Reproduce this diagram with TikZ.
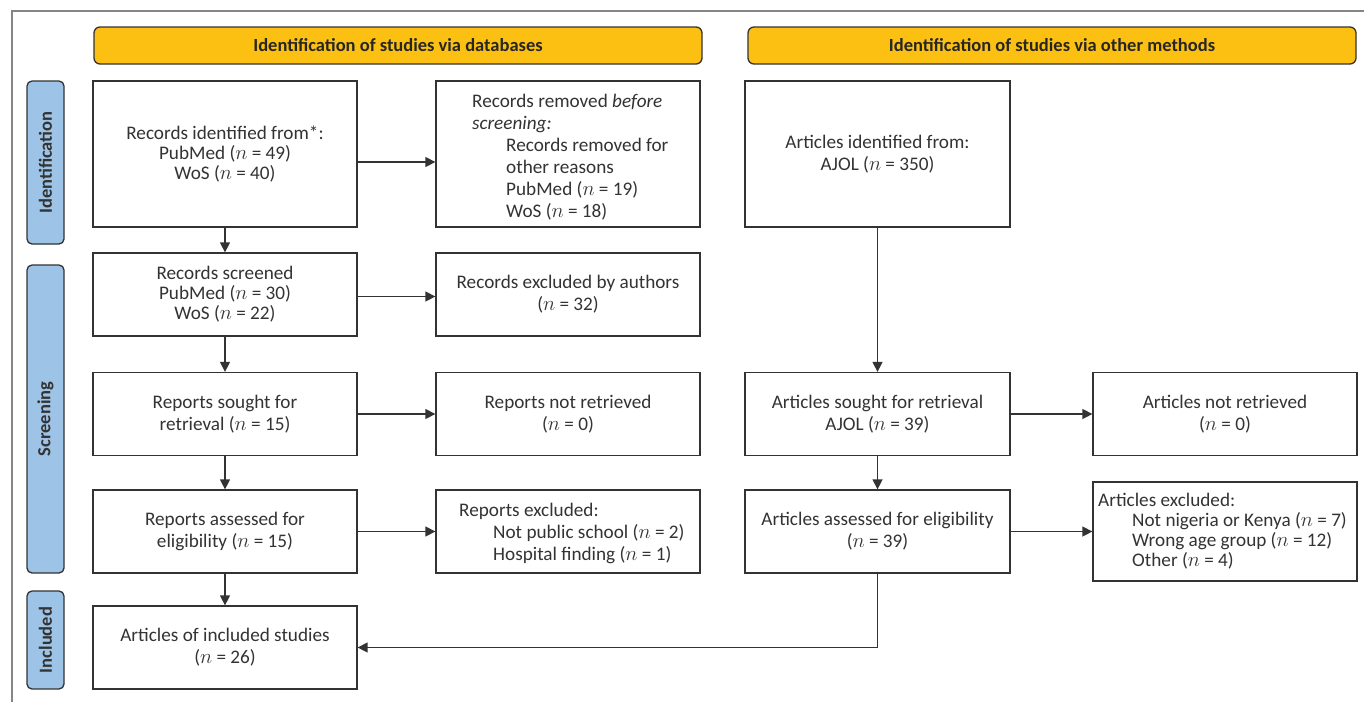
\documentclass[tikz,border=0pt]{standalone}
\usepackage{fontspec}
\setmainfont{Carlito}
\usetikzlibrary{arrows.meta}
\definecolor{hdr}{HTML}{FCC012}
\definecolor{sidec}{HTML}{9DC3E6}
\definecolor{txt}{HTML}{333333}
\definecolor{ln}{HTML}{333333}
\definecolor{frame}{HTML}{858585}
\newcommand{\nv}{$n$}
\begin{document}
\begin{tikzpicture}[x=1pt,y=-1pt,
  box/.style={draw=ln, line width=1.3pt, fill=white, minimum width=264pt, minimum height=83pt, inner sep=0pt, align=center, text=txt, font=\fontsize{19.2}{20}\selectfont},
  lefttext/.style={anchor=west, align=left, inner sep=0pt, text=txt, font=\fontsize{19.2}{22}\selectfont},
  sidebox/.style={draw=ln, line width=1.3pt, fill=sidec, rounded corners=5pt, rotate=90, minimum height=37pt, inner sep=0pt, text=txt, font=\fontsize{18.5}{20}\selectfont\bfseries},
  hdrbox/.style={draw=ln, line width=1.3pt, fill=hdr, rounded corners=6pt, minimum width=608pt, minimum height=37pt, inner sep=0pt, text=black!85, font=\fontsize{18.5}{20}\selectfont\bfseries},
  conn/.style={draw=ln, line width=1.4pt, -{Triangle[length=10pt,width=10pt]}}
]
\useasboundingbox (0,0) rectangle (1364,702);
\draw[frame, line width=1.4pt] (12,702) -- (12,11) -- (1364,11);

% headers
\node[hdrbox] (H1) at (398,45.5) {Identification of studies via databases};
\node[hdrbox] (H2) at (1052,45.5) {Identification of studies via other methods};

% side labels
\node[sidebox, minimum width=163pt] (S1) at (45.5,162.5) {Identification};
\node[sidebox, minimum width=308pt] (S2) at (45.5,419) {Screening};
\node[sidebox, minimum width=98pt] (S3) at (45.5,640) {Included};

% left column
\node[box, minimum height=146pt] (B1) at (225,154) {Records identified from*:\\PubMed (\nv{} = 49)\\WoS (\nv{} = 40)};
\node[box] (B2) at (225,294.5) {Records screened\\PubMed (\nv{} = 30)\\WoS (\nv{} = 22)};
\node[box, font=\fontsize{19.2}{22}\selectfont] (B3) at (225,414) {Reports sought for\\retrieval (\nv{} = 15)};
\node[box, font=\fontsize{19.2}{22}\selectfont] (B4) at (225,531.5) {Reports assessed for\\eligibility (\nv{} = 15)};
\node[box, font=\fontsize{19.2}{22}\selectfont] (B5) at (225,647.5) {Articles of included studies\\(\nv{} = 26)};

% middle column
\node[box, minimum height=146pt] (R1) at (568,154) {};
\node[lefttext] (R1t) at (472,157) {Records removed \textit{before}\\\textit{screening:}\\\hspace*{34pt}Records removed for\\\hspace*{34pt}other reasons\\\hspace*{34pt}PubMed (\nv{} = 19)\\\hspace*{34pt}WoS (\nv{} = 18)};
\node[box, font=\fontsize{19.2}{22}\selectfont] (R2) at (568,294.5) {Records excluded by authors\\(\nv{} = 32)};
\node[box, font=\fontsize{19.2}{22}\selectfont] (R3) at (568,414) {Reports not retrieved\\(\nv{} = 0)};
\node[box] (R4) at (568,531.5) {};
\node[lefttext] (R4t) at (459,533.5) {Reports excluded:\\\hspace*{34pt}Not public school (\nv{} = 2)\\\hspace*{34pt}Hospital finding (\nv{} = 1)};

% other methods column
\node[box, minimum width=265pt, minimum height=146pt, font=\fontsize{19.2}{22}\selectfont] (O1) at (877.5,154) {Articles identified from:\\AJOL (\nv{} = 350)};
\node[box, minimum width=265pt, font=\fontsize{19.2}{22}\selectfont] (O3) at (877.5,414) {Articles sought for retrieval\\AJOL (\nv{} = 39)};
\node[box, minimum width=265pt, font=\fontsize{19.2}{22}\selectfont] (O4) at (877.5,531.5) {Articles assessed for eligibility\\(\nv{} = 39)};

% far right
\node[box, font=\fontsize{19.2}{22}\selectfont] (F3) at (1225,414) {Articles not retrieved\\(\nv{} = 0)};
\node[box, minimum height=99pt] (F4) at (1225,531.5) {};
\node[lefttext, font=\fontsize{19.2}{20}\selectfont] (F4t) at (1098,531.5) {Articles excluded:\\\hspace*{34pt}Not nigeria or Kenya (\nv{} = 7)\\\hspace*{34pt}Wrong age group (\nv{} = 12)\\\hspace*{34pt}Other (\nv{} = 4)};

% connectors
\draw[conn] ([yshift=-8pt]B1.east) -- ([yshift=-8pt]R1.west);
\draw[conn] ([yshift=-2pt]B2.east) -- ([yshift=-2pt]R2.west);
\draw[conn] (B3.east) -- (R3.west);
\draw[conn] (B4.east) -- (R4.west);
\draw[conn] (B1.south) -- (B2.north);
\draw[conn] (B2.south) -- (B3.north);
\draw[conn] (B3.south) -- (B4.north);
\draw[conn] (B4.south) -- (B5.north);
\draw[conn] (O1.south) -- (O3.north);
\draw[conn] (O3.south) -- (O4.north);
\draw[conn] (O3.east) -- (F3.west);
\draw[conn] (O4.east) -- (F4.west);
\draw[conn] (O4.south) |- (B5.east);
\end{tikzpicture}
\end{document}
